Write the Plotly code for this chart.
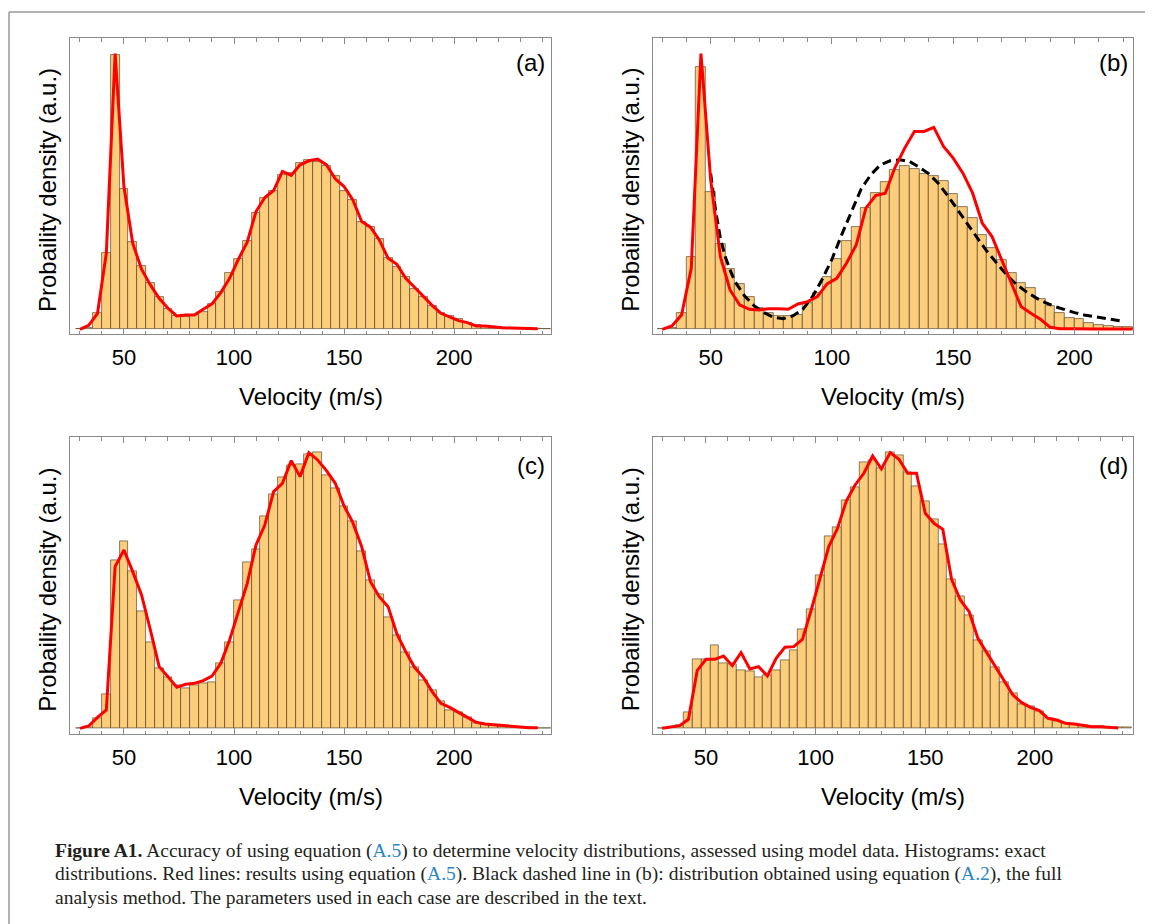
import plotly.graph_objects as go

# ---------------- data (arbitrary units) ----------------
centers = [30 + 4 * i for i in range(54)]          # bin centres 30..242 (bin width 4)
line_x = [30 + 4 * i for i in range(53)]            # 30..238

hist_a = [0, 3, 48, 230, 823, 422, 263, 190, 138, 96, 62, 40, 38, 42, 53, 75, 112, 170,
          212, 264, 349, 393, 416, 463, 468, 497, 506, 500, 490, 460, 415, 387, 321, 308,
          271, 213, 188, 156, 122, 97, 70, 50, 40, 32, 20, 13, 10, 7, 5, 4, 3, 2, 1.5, 1]
red_a = [0, 12, 48, 228, 826, 428, 258, 180, 133, 93, 63, 40, 43, 43, 60, 76, 110, 153,
         210, 261, 353, 395, 416, 473, 461, 493, 505, 510, 493, 451, 428, 388, 323, 306,
         268, 213, 195, 153, 126, 98, 72, 48, 38, 26, 20, 10, 10, 7, 5, 4, 4, 3, 2]

hist_b = [0, 5, 48, 218, 786, 413, 255, 180, 135, 98, 63, 50, 40, 40, 43, 78, 110, 156,
          210, 266, 308, 363, 408, 442, 478, 490, 480, 466, 460, 443, 405, 366, 333, 283,
          243, 208, 170, 140, 123, 90, 70, 50, 35, 30, 18, 12, 10, 8, 6, 4, 3, 2, 1.5, 1]
red_b = [0, 10, 43, 183, 826, 448, 218, 118, 73, 60, 58, 62, 62, 60, 76, 83, 98, 136,
         153, 198, 253, 363, 401, 408, 485, 543, 593, 593, 605, 548, 513, 468, 408, 318,
         278, 208, 138, 68, 48, 30, 6, 2, 2, 1, 1, 1, 1, 1, 1, 1, 1, 1, 1]
dash_b_x = [50, 52, 54, 56, 58, 60, 64, 68, 72, 76, 80, 84, 88, 92, 96, 100, 104, 108,
            112, 116, 120, 124, 128, 132, 136, 140, 144, 148, 152, 156, 160, 164, 168,
            172, 176, 180, 184, 188, 192, 196, 200, 204, 208, 212, 216, 220]
dash_b = [466, 358, 273, 218, 178, 143, 100, 70, 50, 36, 32, 41, 60, 98, 150, 210, 283,
          353, 420, 463, 493, 505, 508, 503, 486, 466, 436, 398, 355, 313, 273, 233, 198,
          163, 135, 113, 95, 80, 68, 58, 50, 43, 38, 32, 28, 24]

hist_c = [0, 4, 31, 104, 504, 563, 473, 353, 259, 182, 154, 131, 121, 131, 136, 139, 196,
          259, 384, 498, 538, 638, 703, 753, 790, 793, 824, 828, 761, 721, 666, 621, 533,
          446, 404, 334, 279, 229, 184, 144, 114, 81, 56, 48, 34, 16, 12, 10, 8, 6, 4, 3, 2, 1]
red_c = [1, 8, 34, 56, 486, 536, 471, 401, 296, 186, 156, 124, 133, 136, 144, 158, 196,
         266, 351, 436, 551, 611, 711, 736, 804, 756, 828, 806, 774, 736, 668, 618, 546,
         441, 396, 366, 284, 231, 184, 154, 111, 76, 64, 48, 34, 19, 14, 12, 9, 7, 5, 3, 3]

hist_d = [0, 3, 10, 47, 207, 207, 248, 195, 192, 173, 170, 153, 160, 175, 205, 235, 298,
          357, 458, 575, 603, 683, 723, 797, 803, 780, 827, 820, 767, 727, 682, 627, 553,
          447, 397, 340, 263, 232, 183, 138, 105, 73, 65, 50, 30, 20, 15, 11, 8, 6, 5, 4, 3, 2]
red_d = [0, 3, 8, 27, 173, 207, 207, 217, 188, 227, 178, 185, 157, 210, 243, 245, 267,
         355, 450, 545, 600, 682, 730, 765, 817, 778, 827, 807, 765, 765, 645, 615, 597,
         447, 385, 350, 270, 227, 183, 140, 100, 77, 63, 53, 30, 25, 15, 13, 8, 5, 5, 2, 1]

x_ticks = [50, 100, 150, 200]
panel_labels = ["(a)", "(b)", "(c)", "(d)"]
x_title = "Velocity (m/s)"
y_title = "Probaility density (a.u.)"
BLUE = "#2b86c4"
caption_lines = [
    "<b>Figure A1.</b> Accuracy of using equation (<span style='color:%s'>A.5</span>) to determine velocity distributions, assessed using model data. Histograms: exact" % BLUE,
    "distributions. Red lines: results using equation (<span style='color:%s'>A.5</span>). Black dashed line in (b): distribution obtained using equation (<span style='color:%s'>A.2</span>), the full" % (BLUE, BLUE),
    "analysis method. The parameters used in each case are described in the text.",
]

# ---------------- layout helpers ----------------
OFF = 8                      # page body margin
W, H = 1153 - OFF, 924 - OFF
def px_x(p): return (p - OFF) / W
def px_y(p): return 1 - (p - OFF) / H

panels = [
    dict(hist=hist_a, red=red_a, ax="", xr=[25.5, 244], yr=[-14, 873], xp=(70, 551), yp=(38, 334)),
    dict(hist=hist_b, red=red_b, ax="2", xr=[26.1, 224], yr=[-14, 873], xp=(652.7, 1132.7), yp=(38, 334)),
    dict(hist=hist_c, red=red_c, ax="3", xr=[25.5, 244], yr=[-16, 874], xp=(70, 551), yp=(437.3, 734)),
    dict(hist=hist_d, red=red_d, ax="4", xr=[25.7, 244.6], yr=[-17, 873], xp=(652.7, 1132.7), yp=(437.3, 734)),
]

FRAME = "#8a8a8a"
fig = go.Figure()
annotations = []
layout_axes = {}

for i, p in enumerate(panels):
    xa = "x" + p["ax"]
    ya = "y" + p["ax"]
    fig.add_trace(go.Bar(
        x=centers, y=p["hist"], width=4, xaxis=xa, yaxis=ya,
        marker=dict(color="rgba(252,198,105,0.88)",
                    line=dict(color="rgba(85,70,45,0.85)", width=0.8)),
        showlegend=False, hoverinfo="skip"))
    if i == 1:
        fig.add_trace(go.Scatter(
            x=dash_b_x, y=dash_b, mode="lines", xaxis=xa, yaxis=ya,
            line=dict(color="black", width=3, dash="9px,5px"), showlegend=False))
    fig.add_trace(go.Scatter(
        x=line_x, y=p["red"], mode="lines", xaxis=xa, yaxis=ya,
        line=dict(color="#ff0000", width=3), showlegend=False))

    xkey = "xaxis" + p["ax"]
    ykey = "yaxis" + p["ax"]
    layout_axes[xkey] = dict(
        domain=[px_x(p["xp"][0]), px_x(p["xp"][1])], range=p["xr"], anchor=ya,
        tickvals=x_ticks, ticks="inside", ticklen=6, tickwidth=1, tickcolor=FRAME,
        minor=dict(dtick=10, tick0=0, ticks="inside", ticklen=3.5, tickcolor=FRAME, tickwidth=1),
        showline=True, linecolor=FRAME, linewidth=1, mirror="ticks",
        showgrid=False, zeroline=False,
        tickfont=dict(family="Liberation Sans, Arial", size=22, color="black"),
        ticklabelstandoff=4,
    )
    layout_axes[ykey] = dict(
        domain=[px_y(p["yp"][1]), px_y(p["yp"][0])], range=p["yr"], anchor=xa,
        showticklabels=False, ticks="", showline=True, linecolor=FRAME, linewidth=1,
        mirror=True, showgrid=False, zeroline=False,
    )
    xc = (p["xp"][0] + p["xp"][1]) / 2
    annotations.append(dict(
        text=x_title, xref="paper", yref="paper", x=px_x(xc), y=px_y(p["yp"][1] + 62),
        xanchor="center", yanchor="middle", showarrow=False,
        font=dict(family="Liberation Sans, Arial", size=24, color="black")))
    yc = (p["yp"][0] + p["yp"][1]) / 2 + 4
    annotations.append(dict(
        text=y_title, xref="paper", yref="paper", x=px_x(p["xp"][0] - 22), y=px_y(yc),
        xanchor="center", yanchor="middle", textangle=-90, showarrow=False,
        font=dict(family="Liberation Sans, Arial", size=24, color="black")))
    lab_dy = 24.5 if i < 2 else 28.5
    lab_dx = 4 if i % 2 == 0 else 2.5
    annotations.append(dict(
        text=panel_labels[i], xref="paper", yref="paper",
        x=px_x(p["xp"][1] - lab_dx), y=px_y(p["yp"][0] + lab_dy),
        xanchor="right", yanchor="middle", showarrow=False,
        font=dict(family="Liberation Sans, Arial", size=24, color="black")))

# caption, one annotation per line
for k, line in enumerate(caption_lines):
    annotations.append(dict(
        text=line, xref="paper", yref="paper",
        x=px_x(53), y=px_y(851 + 23 * k), xanchor="left", yanchor="middle",
        align="left", showarrow=False,
        font=dict(family="Liberation Serif, Times New Roman, serif", size=19.5, color="#231f20")))

shapes = [
    dict(type="line", xref="paper", yref="paper", x0=px_x(9), x1=1.02, y0=px_y(12), y1=px_y(12),
         line=dict(color="#9a9a9a", width=1.5)),
    dict(type="line", xref="paper", yref="paper", x0=px_x(9), x1=px_x(9), y0=px_y(12), y1=-0.02,
         line=dict(color="#9a9a9a", width=1.5)),
]

fig.update_layout(
    width=W, height=H, autosize=False,
    margin=dict(l=0, r=0, t=0, b=0),
    paper_bgcolor="white", plot_bgcolor="white",
    bargap=0, barmode="overlay",
    annotations=annotations, shapes=shapes,
    **layout_axes,
)

fig.write_html("out.html")
